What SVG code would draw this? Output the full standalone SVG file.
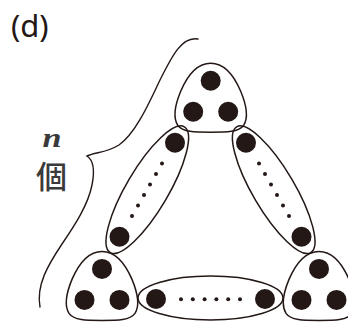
<svg xmlns="http://www.w3.org/2000/svg" width="348" height="322" viewBox="0 0 348 322">
  <style>
    .outline { fill: none; stroke: #231815; stroke-width: 1.5; }
    .big { fill: #231815; }
    .small { fill: #231815; }
    .brace { fill: none; stroke: #231815; stroke-width: 1.4; stroke-linecap: round; }
    .label { font-family: "Noto Sans", "Liberation Sans", sans-serif; font-size: 31px; fill: #231815; }
    .n { font-family: "Liberation Serif", serif; font-style: italic; font-weight: bold; font-size: 27px; fill: #3a3a3a; }
    .ko { font-family: "Noto Sans CJK JP", "Noto Sans CJK SC", sans-serif; font-size: 31px; font-weight: 500; fill: #3a3a3a; }
  </style>
  <defs>
    <path id="tri" d="M0,-38 C14,-38 24,-24 30,-10 C35,2 38,16 33,24 C28,31 16,31 0,31 C-16,31 -28,31 -33,24 C-38,16 -35,2 -30,-10 C-24,-24 -14,-38 0,-38 Z"/>
    <g id="triDots">
      <circle class="big" cx="0" cy="-20.5" r="10"/>
      <circle class="big" cx="-17.5" cy="10.5" r="10"/>
      <circle class="big" cx="17.5" cy="10.5" r="10"/>
    </g>
  </defs>
  <rect width="348" height="322" fill="#ffffff"/>

  <text class="label" x="11" y="37">(d)</text>

  <g id="annotation">
    <path class="brace" d="M198,39 C182,36 172,56 160,80 C149,103 136,133 119,145 C106,153 96,152 87,156 C93,160 95,170 92,185 C88,205 75,225 62,244 C48,265 36,285 40,307"/>
    <text class="n" x="42.5" y="147" textLength="19" lengthAdjust="spacingAndGlyphs">n</text>
    <text class="ko" x="36" y="188">個</text>
  </g>

  <g id="top-cluster" transform="translate(210.7,101.2)">
    <use href="#tri" class="outline"/>
    <use href="#triDots"/>
  </g>

  <g id="bottom-left-cluster" transform="translate(102,289.4)">
    <use href="#tri" class="outline"/>
    <use href="#triDots"/>
  </g>

  <g id="bottom-right-cluster" transform="translate(319,289.4)">
    <use href="#tri" class="outline"/>
    <use href="#triDots"/>
  </g>

  <g id="left-chain">
    <ellipse class="outline" cx="147.3" cy="189.7" rx="73" ry="21" transform="rotate(-59.5 147.3 189.7)"/>
    <circle class="big" cx="175" cy="142.7" r="10"/>
    <circle class="big" cx="119.5" cy="236.7" r="10"/>
    <circle class="small" cx="162" cy="163.5" r="2"/>
    <circle class="small" cx="156" cy="174" r="2"/>
    <circle class="small" cx="150" cy="184.5" r="2"/>
    <circle class="small" cx="144" cy="195" r="2"/>
    <circle class="small" cx="138" cy="205.5" r="2"/>
    <circle class="small" cx="132" cy="216" r="2"/>
  </g>

  <g id="right-chain">
    <ellipse class="outline" cx="273.7" cy="189.7" rx="73" ry="21" transform="rotate(59.5 273.7 189.7)"/>
    <circle class="big" cx="246" cy="142.7" r="10"/>
    <circle class="big" cx="301.5" cy="236.7" r="10"/>
    <circle class="small" cx="259" cy="163.5" r="2"/>
    <circle class="small" cx="265" cy="174" r="2"/>
    <circle class="small" cx="271" cy="184.5" r="2"/>
    <circle class="small" cx="277" cy="195" r="2"/>
    <circle class="small" cx="283" cy="205.5" r="2"/>
    <circle class="small" cx="289" cy="216" r="2"/>
  </g>

  <g id="bottom-chain">
    <ellipse class="outline" cx="210.5" cy="298" rx="72.5" ry="22"/>
    <circle class="big" cx="156" cy="299" r="10"/>
    <circle class="big" cx="265" cy="299" r="10"/>
    <circle class="small" cx="181" cy="299.3" r="2"/>
    <circle class="small" cx="192.8" cy="299.3" r="2"/>
    <circle class="small" cx="204.6" cy="299.3" r="2"/>
    <circle class="small" cx="216.4" cy="299.3" r="2"/>
    <circle class="small" cx="228.2" cy="299.3" r="2"/>
    <circle class="small" cx="240" cy="299.3" r="2"/>
  </g>

  <g id="connectors"/>
</svg>
